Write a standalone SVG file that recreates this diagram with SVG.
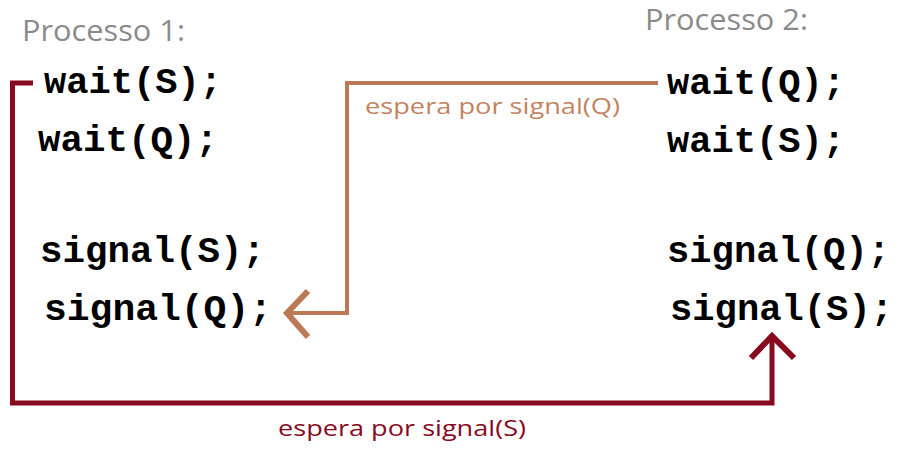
<svg xmlns="http://www.w3.org/2000/svg" width="904" height="452" viewBox="0 0 904 452">
<style>
.title{font-family:"Open Sans","Liberation Sans",sans-serif;font-size:30px;fill:#8a8a8a}
.code{font-family:"Liberation Mono","Courier New",monospace;font-weight:bold;font-size:36px;fill:#000}
.lbl{font-family:"Open Sans","Liberation Sans",sans-serif;font-size:21px}
.q{stroke:#bb7a55;fill:none;stroke-linejoin:miter}
.s{stroke:#870a1e;fill:none;stroke-linejoin:miter}
</style>
<rect width="904" height="452" fill="#fff"/>
<g id="p1">
<text class="title" x="22" y="41" textLength="163" lengthAdjust="spacingAndGlyphs">Processo 1:</text>
<text class="code" x="44" y="93" textLength="178" lengthAdjust="spacingAndGlyphs">wait(S);</text>
<text class="code" x="38" y="151" textLength="180" lengthAdjust="spacingAndGlyphs">wait(Q);</text>
<text class="code" x="40" y="262" textLength="225" lengthAdjust="spacingAndGlyphs">signal(S);</text>
<text class="code" x="44" y="320" textLength="228" lengthAdjust="spacingAndGlyphs">signal(Q);</text>
</g>
<g id="p2">
<text class="title" x="645" y="30" textLength="163" lengthAdjust="spacingAndGlyphs">Processo 2:</text>
<text class="code" x="667" y="94" textLength="178" lengthAdjust="spacingAndGlyphs">wait(Q);</text>
<text class="code" x="667" y="152" textLength="178" lengthAdjust="spacingAndGlyphs">wait(S);</text>
<text class="code" x="667" y="262" textLength="223" lengthAdjust="spacingAndGlyphs">signal(Q);</text>
<text class="code" x="670" y="320" textLength="223" lengthAdjust="spacingAndGlyphs">signal(S);</text>
</g>
<g id="connectors">
<path class="q" stroke-width="4" d="M658,83 H347 V313 H287"/>
<path class="q" stroke-width="6" d="M308,291 L287,313 L308,337"/>
<text class="lbl" x="365" y="114" fill="#c2845f" textLength="255" lengthAdjust="spacingAndGlyphs">espera por signal(Q)</text>
<path class="s" stroke-width="5" d="M33,83 H12.5 V403 H772 V336"/>
<path class="s" stroke-width="6" d="M751,358 L772,336 L794,358"/>
<text class="lbl" x="278" y="436" fill="#870a1e" textLength="248" lengthAdjust="spacingAndGlyphs">espera por signal(S)</text>
</g>
</svg>
